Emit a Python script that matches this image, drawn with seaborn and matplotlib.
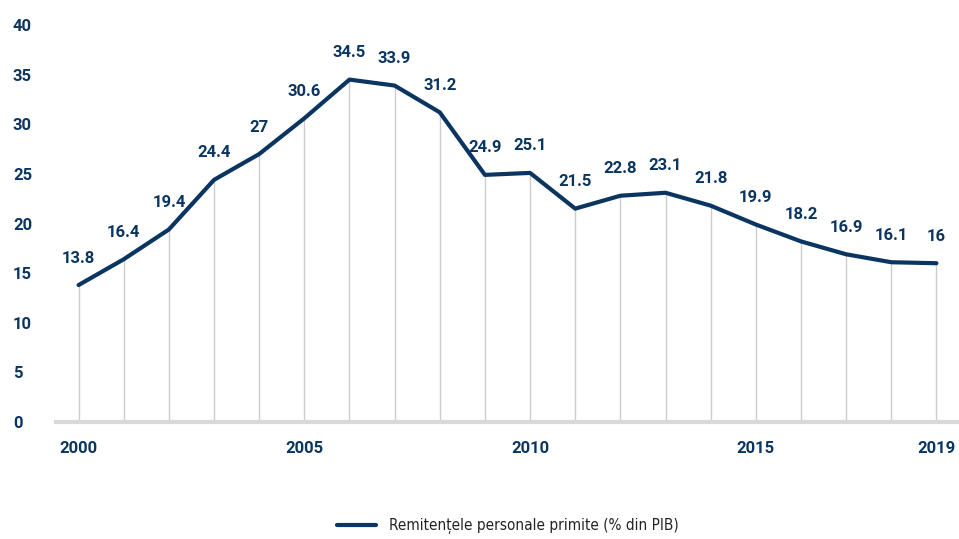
import matplotlib
matplotlib.use("Agg")
import matplotlib.pyplot as plt
import seaborn as sns
import pandas as pd
from matplotlib import font_manager as fm

years = list(range(2000, 2020))
values = [13.8, 16.4, 19.4, 24.4, 27, 30.6, 34.5, 33.9, 31.2, 24.9, 25.1,
          21.5, 22.8, 23.1, 21.8, 19.9, 18.2, 16.9, 16.1, 16]
labels = ["13.8", "16.4", "19.4", "24.4", "27", "30.6", "34.5", "33.9", "31.2", "24.9", "25.1",
          "21.5", "22.8", "23.1", "21.8", "19.9", "18.2", "16.9", "16.1", "16"]
xticks = [2000, 2005, 2010, 2015, 2019]
yticks = [0, 5, 10, 15, 20, 25, 30, 35, 40]
series_name = "Remitențele personale primite (% din PIB)"

NAVY = "#0b3561"
sns.set_theme(style="white")
plt.rcParams['font.family'] = ['Roboto', 'DejaVu Sans']

df = pd.DataFrame({"year": years, "value": values})

fig = plt.figure(figsize=(9.59, 5.39), dpi=100)
ax = fig.add_axes([0.0584, 0.217, 0.9416, 0.7366])

ax.vlines(df["year"], 0, df["value"], color="#cccccc", lw=1.0, zorder=1)
sns.lineplot(data=df, x="year", y="value", ax=ax, color=NAVY, lw=3,
             label=series_name, zorder=3)

for x, y, t in zip(years, values, labels):
    ax.annotate(t, (x, y), xytext=(0, 14), textcoords="offset points",
                ha="center", va="bottom", fontsize=12, fontweight="bold", color=NAVY)

ax.set_xlim(1999.5, 2019.5)
ax.set_ylim(0, 40)
ax.set_xticks(xticks)
ax.set_yticks(yticks)
ax.set_xlabel("")
ax.set_ylabel("")
for s in ["top", "right", "left"]:
    ax.spines[s].set_visible(False)
ax.spines["bottom"].set_color("#d9d9d9")
ax.spines["bottom"].set_linewidth(3)
ax.tick_params(axis="both", length=0, labelsize=12, labelcolor=NAVY)
ax.tick_params(axis="y", pad=31)
ax.tick_params(axis="x", pad=14)
for lbl in ax.get_xticklabels() + ax.get_yticklabels():
    lbl.set_fontweight("bold")
for lbl in ax.get_yticklabels():
    lbl.set_horizontalalignment("left")
ax.grid(False)

leg_font = fm.FontProperties(family="DejaVu Sans", stretch="condensed", size=11)
leg = ax.legend(loc="center", bbox_to_anchor=(0.5, -0.262), frameon=False,
                prop=leg_font, handlelength=2.6, handletextpad=0.8)
for h in leg.get_lines():
    h.set_linewidth(3)
for t in leg.get_texts():
    t.set_color("#222222")

fig.savefig("out.png", dpi=100)
